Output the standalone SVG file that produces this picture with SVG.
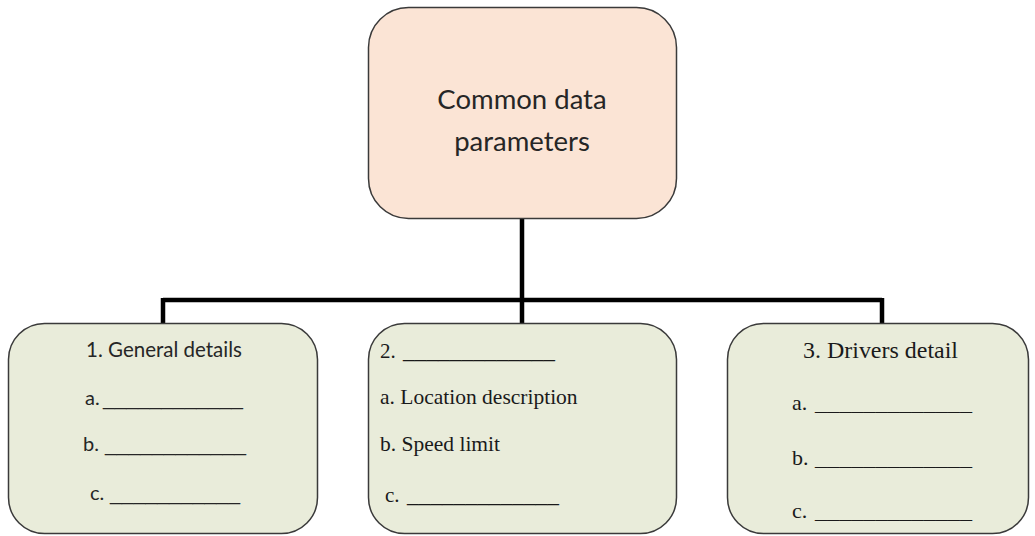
<svg xmlns="http://www.w3.org/2000/svg" width="1035" height="536" viewBox="0 0 1035 536">
<style>
.box{stroke:#3a3a3a;stroke-width:1.5}
.top{fill:#fbe4d5}
.sub{fill:#e9ecda}
.conn{stroke:#000;stroke-width:4.5;fill:none}
.sans{font-family:Lato,"Open Sans","Liberation Sans",sans-serif;fill:#262626}
.serif{font-family:"Liberation Serif","DejaVu Serif",serif;fill:#1a1a1a}
.ul{font-family:"Liberation Sans",Arial,sans-serif}
</style>
<rect width="1035" height="536" fill="#fff"/>
<g id="connectors">
<path class="conn" d="M522 218 V300 M163 300 H882 M163 298 V324 M522 300 V324 M882 298 V324"/>
</g>
<g id="root">
<rect class="box top" x="368.5" y="7.5" width="308" height="211" rx="40"/>
<text class="sans" x="522" y="109" font-size="27.5" text-anchor="middle">Common data</text>
<text class="sans" x="522" y="151" font-size="27.5" text-anchor="middle">parameters</text>
</g>
<g id="general">
<rect class="box sub" x="8.5" y="323.5" width="309" height="210" rx="36"/>
<text class="sans" x="164" y="357" font-size="20.5" text-anchor="middle">1. General details</text>
<text class="sans" x="85" y="405" font-size="20">a.<tspan class="ul" x="103" textLength="140" lengthAdjust="spacingAndGlyphs">____________</tspan></text>
<text class="sans" x="83" y="451" font-size="20">b. <tspan class="ul" x="105" textLength="141" lengthAdjust="spacingAndGlyphs">____________</tspan></text>
<text class="sans" x="90" y="500" font-size="20">c. <tspan class="ul" x="110" textLength="130" lengthAdjust="spacingAndGlyphs">___________</tspan></text>
</g>
<g id="location">
<rect class="box sub" x="368.5" y="323.5" width="308" height="210" rx="36"/>
<text class="serif" x="380" y="358" font-size="21">2. <tspan x="403" textLength="152" lengthAdjust="spacingAndGlyphs">_____________</tspan></text>
<text class="serif" x="380" y="404" font-size="21.5">a. Location description</text>
<text class="serif" x="380" y="451" font-size="21.5">b. Speed limit</text>
<text class="serif" x="385" y="502" font-size="21">c. <tspan x="407" textLength="152" lengthAdjust="spacingAndGlyphs">_____________</tspan></text>
</g>
<g id="drivers">
<rect class="box sub" x="727.5" y="323.5" width="301" height="210" rx="36"/>
<text class="serif" x="803" y="358" font-size="23" textLength="155" lengthAdjust="spacingAndGlyphs">3. Drivers detail</text>
<text class="serif" x="792" y="410" font-size="22">a. <tspan x="815" textLength="157" lengthAdjust="spacingAndGlyphs">_____________</tspan></text>
<text class="serif" x="792" y="465" font-size="22">b. <tspan x="815" textLength="157" lengthAdjust="spacingAndGlyphs">_____________</tspan></text>
<text class="serif" x="792" y="518" font-size="22">c. <tspan x="815" textLength="157" lengthAdjust="spacingAndGlyphs">_____________</tspan></text>
</g>
</svg>
